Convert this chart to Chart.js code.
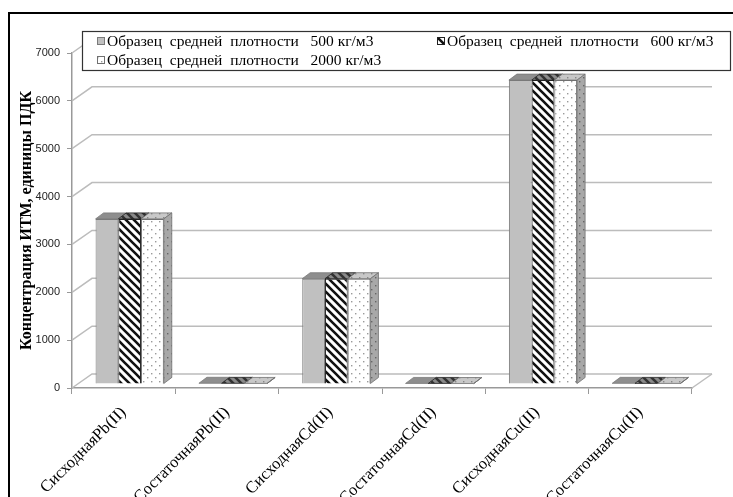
<!DOCTYPE html>
<html>
<head>
<meta charset="utf-8">
<script src="https://cdn.jsdelivr.net/npm/chart.js@4.4.1/dist/chart.umd.min.js"></script>
<style>
  html, body { margin: 0; padding: 0; background: #fff; }
  body { width: 733px; height: 497px; position: relative; overflow: hidden; }
  #frame { position: absolute; left: 8px; top: 12px; width: 780px; height: 540px; border: 2.5px solid #000; box-sizing: border-box; }
  #wrap { position: absolute; left: 0; top: 0; width: 733px; height: 497px; }
</style>
</head>
<body>
<div id="frame"></div>
<div id="wrap"><canvas id="chart" width="733" height="497"></canvas></div>
<script>
// DATA
const categories = ['СисходнаяPb(II)', 'СостаточнаяPb(II)', 'СисходнаяCd(II)', 'СостаточнаяCd(II)', 'СисходнаяCu(II)', 'СостаточнаяCu(II)'];
const seriesNames = [
    'Образец  средней  плотности   500 кг/м3',
    'Образец  средней  плотности   600 кг/м3',
    'Образец  средней  плотности   2000 кг/м3'
];
const density500 = [3450, 15, 2200, 12, 6350, 14];
const density600 = [3450, 14, 2200, 12, 6350, 13];
const density2000 = [3450, 12, 2200, 10, 6350, 12];
const yTicks = [0, 1000, 2000, 3000, 4000, 5000, 6000, 7000];

// 3D look
const WALL = { dx: 20, dy: 14 };
const SHIFT = { dx: 6, dy: 4 };
const BAR = { dx: 8, dy: 6 };

const ctx = document.getElementById('chart').getContext('2d');

function stripes(bg, fg) {
    const c = document.createElement('canvas');
    c.width = 8; c.height = 8;
    const g = c.getContext('2d');
    g.fillStyle = bg; g.fillRect(0, 0, 8, 8);
    g.strokeStyle = fg; g.lineWidth = 2.6;
    g.beginPath();
    g.moveTo(-2, -2); g.lineTo(10, 10);
    g.moveTo(-2, 6); g.lineTo(2, 10);
    g.moveTo(6, -2); g.lineTo(10, 2);
    g.stroke();
    return ctx.createPattern(c, 'repeat');
}

function dots(bg, fg) {
    const c = document.createElement('canvas');
    c.width = 8; c.height = 8;
    const g = c.getContext('2d');
    g.fillStyle = bg; g.fillRect(0, 0, 8, 8);
    g.fillStyle = fg;
    g.fillRect(1, 1, 1.4, 1.4);
    g.fillRect(5, 5, 1.4, 1.4);
    return ctx.createPattern(c, 'repeat');
}

function face(c, pts, fill, stroke) {
    c.beginPath();
    c.moveTo(pts[0][0], pts[0][1]);
    for (let k = 1; k < pts.length; k++) c.lineTo(pts[k][0], pts[k][1]);
    c.closePath();
    c.fillStyle = fill;
    c.fill();
    c.strokeStyle = stroke;
    c.lineWidth = 0.8;
    c.stroke();
}

const scene = {
    id: 'scene',
    beforeDatasetsDraw(chart) {
        const c = chart.ctx, a = chart.chartArea, y = chart.scales.y;
        c.save();
        c.strokeStyle = '#bcbcbc';
        c.lineWidth = 1.5;
        y.ticks.forEach(t => {
            const py = y.getPixelForValue(t.value);
            c.beginPath();
            c.moveTo(a.left, py);
            c.lineTo(a.left + WALL.dx, py - WALL.dy);
            c.lineTo(a.right + WALL.dx, py - WALL.dy);
            c.stroke();
        });
        c.beginPath();
        c.moveTo(a.right, a.bottom);
        c.lineTo(a.right + WALL.dx, a.bottom - WALL.dy);
        c.stroke();
        c.restore();
        c.save();
        c.translate(SHIFT.dx, -SHIFT.dy);
    },
    afterDatasetsDraw(chart) {
        const c = chart.ctx;
        const n = chart.data.datasets.length;
        chart.data.labels.forEach((_, i) => {
            for (let d = 0; d < n; d++) {
                const ds = chart.data.datasets[d];
                const bar = chart.getDatasetMeta(d).data[i];
                const l = bar.x - bar.width / 2, r = bar.x + bar.width / 2;
                face(c, [[l, bar.y], [l + BAR.dx, bar.y - BAR.dy], [r + BAR.dx, bar.y - BAR.dy], [r, bar.y]], ds.topColor, ds.borderColor);
                if (d === n - 1) {
                    face(c, [[r, bar.y], [r + BAR.dx, bar.y - BAR.dy], [r + BAR.dx, bar.base - BAR.dy], [r, bar.base]], ds.sideColor, ds.borderColor);
                }
            }
        });
        c.restore();
    },
    afterDraw(chart) {
        // legend box
        const c = chart.ctx, a = chart.chartArea;
        const box = { l: a.left + 10, t: a.top - 22, r: chart.width - 2, b: a.top + 18 };
        c.save();
        c.fillStyle = '#fff';
        c.fillRect(box.l, box.t, box.r - box.l, box.b - box.t);
        c.strokeStyle = '#333';
        c.lineWidth = 1.2;
        c.strokeRect(box.l + 0.5, box.t + 0.5, box.r - box.l - 1, box.b - box.t - 1);
        const spots = [[box.l + 15, box.t + 10], [box.l + 355, box.t + 10], [box.l + 15, box.t + 29]];
        c.font = '15.5px "Liberation Serif", "Times New Roman", serif';
        c.textBaseline = 'middle';
        chart.data.datasets.forEach((ds, d) => {
            const [x, yy] = spots[d];
            c.fillStyle = ds.backgroundColor;
            c.fillRect(x, yy - 4, 8, 8);
            c.strokeStyle = ds.borderColor;
            c.lineWidth = 1;
            c.strokeRect(x + 0.5, yy - 3.5, 7, 7);
            c.fillStyle = '#000';
            c.fillText(ds.label, x + 10, yy + 1);
        });
        c.restore();
    }
};

const axisFont = { family: '"Liberation Sans Narrow", "Liberation Sans", Arial, sans-serif', size: 11 };
const serif = '"Liberation Serif", "Times New Roman", serif';

new Chart(ctx, {
    type: 'bar',
    data: {
        labels: categories,
        datasets: [{
            label: seriesNames[0],
            data: density500,
            backgroundColor: '#c0c0c0',
            topColor: '#8e8e8e',
            sideColor: '#a0a0a0',
            borderColor: '#7a7a7a',
            borderWidth: 1
        }, {
            label: seriesNames[1],
            data: density600,
            backgroundColor: stripes('#ffffff', '#111111'),
            topColor: stripes('#8a8a8a', '#333333'),
            sideColor: stripes('#8a8a8a', '#333333'),
            borderColor: '#222',
            borderWidth: 1
        }, {
            label: seriesNames[2],
            data: density2000,
            backgroundColor: dots('#ffffff', '#9a9a9a'),
            topColor: dots('#c8c8c8', '#888888'),
            sideColor: dots('#a8a8a8', '#666666'),
            borderColor: '#707070',
            borderWidth: 1
        }]
    },
    options: {
        responsive: false,
        animation: false,
        devicePixelRatio: 1,
        layout: { padding: { left: 12, right: 41, top: 53, bottom: 0 } },
        datasets: { bar: { categoryPercentage: 0.66, barPercentage: 1, clip: false } },
        plugins: {
            legend: { display: false },
            tooltip: { enabled: false }
        },
        scales: {
            x: {
                afterFit: s => { s.height = 109; },
                grid: { offset: true, drawOnChartArea: false, drawTicks: true, tickLength: 6, color: '#999' },
                border: { display: true, color: '#999', width: 1.5 },
                ticks: {
                    autoSkip: false, minRotation: 45, maxRotation: 45, padding: 9,
                    color: '#000', font: { family: serif, size: 16.5 }
                }
            },
            y: {
                min: yTicks[0],
                max: yTicks[yTicks.length - 1],
                afterFit: s => { s.width = 60; },
                afterBuildTicks: s => { s.ticks = yTicks.map(v => ({ value: v })); },
                grid: { drawOnChartArea: false, drawTicks: true, tickLength: 5, color: '#999' },
                border: { display: true, color: '#999', width: 1.5 },
                ticks: { padding: 7, color: '#222', font: axisFont, callback: v => String(v) },
                title: {
                    display: true,
                    text: 'Концентрация ИТМ, единицы ПДК',
                    color: '#000',
                    padding: { top: 5, bottom: 0 },
                    font: { family: serif, size: 16, weight: 'bold' }
                }
            }
        }
    },
    plugins: [scene]
});
</script>
</body>
</html>
